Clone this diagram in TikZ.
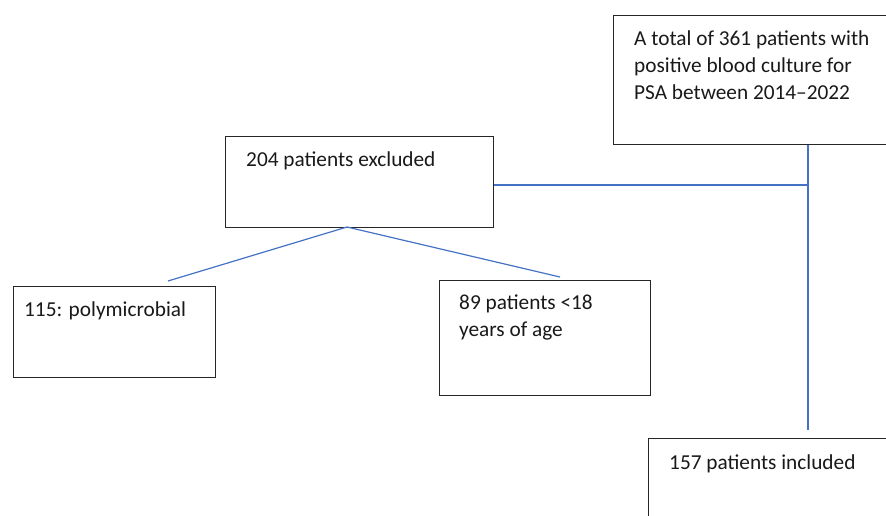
\documentclass[tikz,border=0pt]{standalone}
\usepackage{fontspec}
\setmainfont{Carlito}
\definecolor{lineblue}{HTML}{4472C4}
\definecolor{boxline}{HTML}{262626}
\begin{document}
\begin{tikzpicture}[x=1pt,y=-1pt,
  box/.style={draw=boxline,line width=1.4pt,rectangle,inner sep=0pt,anchor=north west},
  conn/.style={draw=lineblue,line width=1.2pt},
  lbl/.style={anchor=base west,inner sep=0pt,align=left,font=\fontsize{21.3}{27}\selectfont,text=black!90}]
\useasboundingbox (0,0) rectangle (886,516);
\clip (0,0) rectangle (886,516);
% boxes
\node[box,minimum width=300pt,minimum height=129pt] (total) at (613,15) {};
\node[box,minimum width=268pt,minimum height=91pt] (excl) at (225,136) {};
\node[box,minimum width=202pt,minimum height=91pt] (poly) at (13,286) {};
\node[box,minimum width=211pt,minimum height=115pt] (age) at (439,280) {};
\node[box,minimum width=260pt,minimum height=120pt] (incl) at (648,438) {};
% texts (base = baseline of the last line)
\node[lbl] (ttotal) at (634,100) {A total of 361 patients with\\positive blood culture for\\PSA between 2014–2022};
\node[lbl] (texcl) at (246,166) {204 patients excluded};
\node[lbl] (tpoly) at (24,316) {115: polymicrobial};
\node[lbl] (tage) at (459,336) {89 patients <18\\years of age};
\node[lbl] (tincl) at (669,469) {157 patients included};
% connectors
\coordinate (junc) at (808,185);
\coordinate (vend) at (808,430);
\coordinate (split) at (347,227);
\coordinate (lend) at (168,281);
\coordinate (rend) at (560,277);
\draw[conn] (total.south -| junc) -- (vend);
\draw[conn] (excl.east |- junc) -- (junc);
\draw[conn] (split) -- (lend);
\draw[conn] (split) -- (rend);
\end{tikzpicture}
\end{document}
